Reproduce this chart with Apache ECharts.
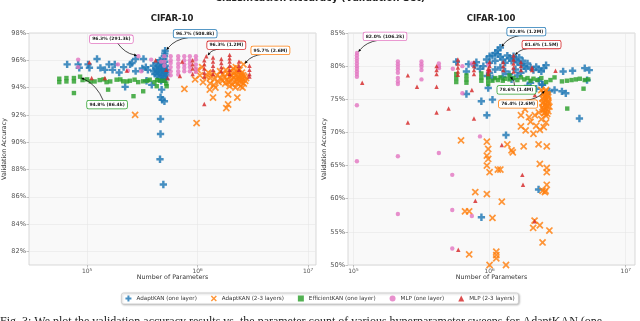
<!DOCTYPE html>
<html><head><meta charset="utf-8">
<script src="https://cdn.jsdelivr.net/npm/echarts@6/dist/echarts.min.js"></script>
<style>html,body{margin:0;padding:0;background:#fff}#c{width:640px;height:321px}</style>
</head><body><div id="c"></div>
<script>
// ---------------- DATA ----------------
const seriesNames = ['AdaptKAN (one layer)', 'AdaptKAN (2-3 layers)', 'EfficientKAN (one layer)', 'MLP (one layer)', 'MLP (2-3 layers)'];
const panelTitles = ['CIFAR-10', 'CIFAR-100'];
const c10YTicks = [82, 84, 86, 88, 90, 92, 94, 96, 98];
const c100YTicks = [50, 55, 60, 65, 70, 75, 80, 85];
const xTicks = [1e5, 1e6, 1e7];

// CIFAR-10: [parameters, validation accuracy %]
const c10AdaptKAN1 = [
 [66e3,95.7],[83e3,95.7],[85e3,95.45],[102e3,95.7],[105e3,95.45],[123e3,96.1],[132e3,95.45],[145e3,95.3],[158e3,95.7],[170e3,95.3],[178e3,95.7],[195e3,95.1],[214e3,95.5],[221e3,94.05],[245e3,95.7],[255e3,95.8],[275e3,96.1],[275e3,95.2],[324e3,96.1],[316e3,95.4],[340e3,95.5],[355e3,95.3],[345e3,94.5],[385e3,94.2],
 [398e3,95.6],[400e3,95.2],[410e3,95.0],[420e3,95.4],[425e3,95.8],[430e3,94.9],[437e3,95.2],[440e3,95.6],[447e3,95.0],[450e3,95.4],[457e3,94.7],[460e3,95.8],[465e3,95.1],[470e3,95.5],[475e3,94.9],[480e3,95.3],[485e3,95.7],[490e3,95.0],[495e3,95.4],[500e3,94.8],[505e3,95.2],[510e3,95.6],[515e3,94.6],[520e3,95.1],[525e3,94.9],[530e3,95.3],[430e3,95.3],[455e3,96.0],[468e3,94.5],[488e3,94.6],
 [508.8e3,96.7],[505e3,96.5],[500e3,96.3],[495e3,96.1],[505e3,95.9],
 [473e3,93.85],[462e3,93.3],[478e3,93.1],[501e3,93.0],[462e3,91.7],[462e3,90.6],[457e3,88.75],[490e3,86.9]
];
const c10AdaptKAN23 = [
 [1.0e6,95.3],[0.95e6,94.6],[1.05e6,94.9],[1.1e6,95.5],[1.12e6,94.4],[1.2e6,94.8],[1.25e6,95.1],[1.3e6,94.3],[1.3e6,94.7],[1.35e6,95.0],[1.4e6,94.2],[1.42e6,94.6],[1.45e6,94.0],[1.5e6,94.9],[1.55e6,94.4],[1.6e6,95.2],[1.62e6,94.7],[1.68e6,94.5],[1.7e6,95.0],[1.75e6,94.8],[1.78e6,94.3],[1.8e6,95.3],[1.85e6,94.6],[1.88e6,95.0],[1.9e6,94.4],[1.95e6,94.8],[1.98e6,95.2],[2.0e6,94.5],[2.05e6,94.9],[2.08e6,94.2],[2.1e6,95.4],[2.12e6,94.7],[2.15e6,95.1],[2.18e6,94.4],[2.2e6,94.9],[2.22e6,95.5],[2.25e6,94.6],[2.28e6,95.2],[2.3e6,94.3],[2.32e6,94.8],[2.35e6,95.0],[2.38e6,94.5],[2.4e6,95.3],[2.42e6,94.7],[2.45e6,94.1],[2.48e6,94.9],[2.5e6,94.4],[2.52e6,95.1],[2.55e6,94.6],[2.58e6,94.9],[2.6e6,95.7],[2.62e6,94.3],[2.65e6,94.8],[2.7e6,94.5],[2.75e6,94.7],[2.2e6,94.0],[1.95e6,94.1],[2.55e6,94.0],
 [272e3,92.0],[980e3,91.4],[760e3,93.9],[1.29e6,93.85],[1.38e6,93.27],[1.89e6,93.5],[1.89e6,92.76],[1.82e6,92.5],[2.29e6,93.27]
];
const c10EfficientKAN = [
 [56e3,94.65],[56e3,94.4],[65e3,94.7],[65e3,94.45],[76e3,94.7],[76e3,94.45],[86.4e3,94.8],[91e3,94.55],[100e3,94.6],[108e3,94.45],[117e3,94.45],[130e3,94.55],[141e3,94.6],[150e3,94.4],[162e3,94.45],[185e3,94.58],[200e3,94.6],[212e3,94.46],[230e3,94.45],[244e3,94.5],[269e3,94.58],[290e3,94.4],[321e3,94.46],[350e3,94.5],[369e3,94.58],[407e3,94.4],[430e3,94.55],[457e3,94.5],[500e3,94.5],[520e3,94.3],
 [76e3,93.6],[155e3,93.85],[263e3,93.37],[322e3,93.73],[427e3,94.1],[525e3,94.1]
];
const c10MLP1 = [
 [83e3,96.05],[83e3,95.5],[190e3,95.7],[234e3,95.24],[291.3e3,96.3],[309e3,95.2],[380e3,96.05],[468e3,95.9],
 [500e3,96.3],[500e3,95.9],[500e3,95.6],
 [571e3,96.3],[571e3,96.0],[571e3,95.8],[571e3,95.5],[571e3,95.2],[571e3,94.9],
 [668e3,96.3],[668e3,96.05],[668e3,95.75],[668e3,95.5],[668e3,95.2],[668e3,94.95],
 [758e3,96.3],[758e3,96.0],[758e3,95.7],[758e3,95.45],[758e3,95.2],
 [851e3,96.3],[851e3,96.0],[851e3,95.75],[851e3,95.5],[851e3,95.2],
 [966e3,96.3],[966e3,96.05],[966e3,95.7],[966e3,95.4],[966e3,95.15]
];
const c10MLP23 = [
 [105e3,95.85],[110e3,94.7],[145e3,94.7],[229e3,95.24],[417e3,96.0],[520e3,95.3],[537e3,94.7],[692e3,94.85],[725e3,95.9],
 [902e3,96.0],[902e3,95.7],[902e3,95.4],[902e3,95.0],[1.15e6,92.8],
 [1.2e6,96.3],[1.15e6,96.0],[1.15e6,95.7],[1.15e6,95.4],[1.15e6,95.1],[1.15e6,94.8],
 [1.38e6,96.2],[1.38e6,95.9],[1.38e6,95.6],[1.38e6,95.3],[1.38e6,95.0],
 [1.64e6,96.1],[1.64e6,95.8],[1.64e6,95.5],[1.64e6,95.2],
 [1.95e6,96.4],[1.95e6,96.15],[1.95e6,95.9],[1.95e6,95.6],[1.95e6,95.3],[1.95e6,95.0],
 [2.37e6,95.9],[2.37e6,95.6],[2.37e6,95.3],
 [2.95e6,95.6],[2.95e6,95.3],[2.95e6,95.0],[2.95e6,94.8]
];

// CIFAR-100
const c100AdaptKAN1 = [
 [1.2e6,82.8],[1.15e6,82.4],[1.1e6,82.0],[1.05e6,81.6],[1.15e6,81.8],[1.2e6,81.4],[1.0e6,81.5],[950e3,81.0],[1.0e6,80.5],[1.1e6,80.8],[1.25e6,81.0],[1.3e6,80.5],[1.35e6,81.6],[1.4e6,81.2],[1.45e6,80.8],[1.5e6,81.5],[1.55e6,81.0],[1.6e6,80.6],[1.65e6,81.3],[1.7e6,80.2],[1.75e6,80.8],[1.8e6,80.0],[1.85e6,79.6],[1.9e6,80.4],[2.0e6,79.8],[2.1e6,79.4],[2.2e6,79.9],[2.3e6,79.5],[2.4e6,79.2],[2.5e6,79.7],[1.2e6,79.8],[1.3e6,79.2],[1.4e6,78.8],[1.55e6,79.5],[1.6e6,78.6],[1.7e6,79.0],[1.1e6,79.5],[1.0e6,79.0],[900e3,80.0],[850e3,79.6],[800e3,80.6],[780e3,80.1],[700e3,80.3],[676e3,79.2],[569e3,80.65],[960e3,78.5],[1.05e6,78.2],[1.25e6,78.4],[1.45e6,78.0],[2.0e6,77.5],[2.3e6,77.8],[1.9e6,77.0],[2.6e6,80.15],[2.45e6,77.2],[2.2e6,76.6],[977e3,76.7],
 [676e3,75.8],[870e3,74.7],[1.05e6,74.95],[955e3,72.6],[1.32e6,69.6],[2.29e6,61.4],[871e3,57.2],[3.47e6,79.2],[4.07e6,79.3],[5.0e6,79.7],[5.4e6,79.4],[5.2e6,77.9],[4.57e6,72.1],[2.75e6,76.2],[3.0e6,76.4],[3.4e6,76.2],[3.63e6,75.9],[2.43e6,77.2]
];
const c100AdaptKAN23 = [
 [2.6e6,76.4],[2.5e6,76.0],[2.65e6,75.8],[2.55e6,75.5],[2.7e6,75.3],[2.45e6,75.1],[2.6e6,74.9],[2.5e6,74.6],[2.7e6,74.4],[2.55e6,74.2],[2.65e6,74.0],[2.45e6,73.8],[2.6e6,73.6],[2.5e6,73.4],[2.7e6,73.2],[2.55e6,73.0],[2.65e6,72.8],[2.6e6,72.5],[2.5e6,75.8],[2.7e6,74.8],[2.45e6,74.4],[2.62e6,73.9],[2.52e6,72.9],[2.68e6,75.6],[2.58e6,76.2],[2.48e6,73.5],[2.66e6,74.6],[2.56e6,75.2],[2.4e6,76.4],[2.75e6,73.9],
 [1.7e6,72.6],[1.82e6,73.5],[1.95e6,72.3],[1.7e6,70.9],[1.84e6,70.3],[2.0e6,71.6],[2.2e6,71.0],[2.34e6,70.4],[2.1e6,69.8],[2.5e6,70.8],[2.4e6,72.0],[2.6e6,71.5],[2.3e6,73.0],[2.15e6,72.6],
 [617e3,68.8],[955e3,68.6],[977e3,67.5],[955e3,66.5],[977e3,66.0],[955e3,65.0],[1.0e6,64.0],[1.15e6,64.4],[1.2e6,64.4],[1.35e6,68.2],[1.48e6,67.0],[1.45e6,67.3],[1.78e6,67.9],[2.29e6,68.2],[2.63e6,67.9],[2.34e6,65.25],[2.63e6,64.65],[2.63e6,64.0],[2.63e6,62.1],[2.45e6,61.2],[2.58e6,61.2],[2.55e6,61.0],[785e3,61.0],[955e3,60.7],[1.23e6,59.55],[660e3,58.1],[708e3,58.1],[1.05e6,57.1],[2.14e6,56.7],[2.34e6,56.0],[2.09e6,55.6],[2.75e6,55.2],[2.45e6,53.4],[708e3,51.6],[1.12e6,52.0],[1.12e6,51.5],[1.12e6,51.0],[1.0e6,50.0],[1.32e6,50.0]
];
const c100EfficientKAN = [
 [569e3,78.8],[569e3,78.2],[569e3,77.6],[676e3,78.6],[676e3,78.0],[676e3,77.5],[870e3,78.9],[870e3,78.3],[870e3,77.8],[977e3,78.5],[977e3,77.9],[977e3,77.3],
 [1.05e6,77.8],[1.1e6,78.2],[1.15e6,77.9],[1.2e6,78.3],[1.25e6,77.8],[1.3e6,78.1],[1.4e6,78.6],[1.4e6,78.0],[1.5e6,78.2],[1.6e6,77.9],[1.7e6,78.3],[1.8e6,78.0],[1.9e6,78.2],[2.0e6,77.8],[2.1e6,78.1],[2.25e6,77.9],[2.4e6,78.2],[2.6e6,77.6],[2.8e6,77.9],[3.0e6,78.3],[3.4e6,77.7],[3.7e6,77.8],[4.0e6,77.9],[4.3e6,78.0],[4.6e6,78.1],[5.0e6,77.9],[5.3e6,78.0],[4.9e6,76.6],[3.72e6,73.6]
];
const c100MLP1 = [
 [106.2e3,82.0],[106e3,81.6],[106e3,81.2],[106e3,80.8],[106e3,80.4],[106e3,80.0],[106e3,79.6],[106e3,79.2],[106e3,78.8],[106e3,78.4],[106e3,74.1],[106e3,65.65],
 [212e3,80.7],[212e3,80.3],[212e3,79.9],[212e3,79.5],[212e3,79.0],[212e3,78.2],[212e3,77.7],[212e3,77.3],[212e3,66.4],[212e3,57.7],
 [316e3,80.7],[316e3,80.3],[316e3,79.9],[316e3,79.4],[316e3,78.0],
 [424e3,80.4],[424e3,80.0],[424e3,79.7],[424e3,66.9],
 [537e3,79.6],[532e3,63.6],[532e3,58.3],[532e3,52.5],
 [631e3,80.0],[631e3,75.9],[741e3,80.4],[741e3,57.4],[850e3,69.4],[977e3,80.2],[977e3,79.2]
];
const c100MLP23 = [
 [116e3,77.5],[251e3,78.6],[293e3,76.9],[251e3,71.5],
 [408e3,80.0],[408e3,79.4],[408e3,78.8],[408e3,76.9],[408e3,73.0],
 [500e3,73.6],[585e3,81.0],[585e3,80.4],[585e3,79.8],[585e3,79.2],[585e3,78.7],[589e3,52.3],
 [768e3,80.6],[768e3,80.0],[768e3,79.4],[768e3,78.8],[768e3,72.1],[741e3,76.4],[786e3,59.7],
 [977e3,79.6],[977e3,79.2],[977e3,78.8],
 [1.0e6,80.6],[1.0e6,80.0],[1.0e6,79.4],
 [1.26e6,80.6],[1.26e6,80.0],[1.26e6,79.4],[1.23e6,68.1],
 [1.5e6,81.6],[1.5e6,81.0],[1.5e6,80.4],[1.5e6,79.8],[1.5e6,79.2],
 [1.7e6,80.6],[1.7e6,80.0],[1.7e6,79.4],[1.74e6,63.6],[1.76e6,62.1],
 [2.05e6,79.8],[2.05e6,79.4],[2.14e6,56.6],[2.15e6,75.65],[3.05e6,79.3]
];

// Best-point annotations
const c10Best = [
 ['MLP (one layer)', 291.3e3, 96.3, '96.3% (291.3k)'],
 ['AdaptKAN (one layer)', 508.8e3, 96.7, '96.7% (508.8k)'],
 ['MLP (2-3 layers)', 1.2e6, 96.3, '96.3% (1.2M)'],
 ['AdaptKAN (2-3 layers)', 2.6e6, 95.7, '95.7% (2.6M)'],
 ['EfficientKAN (one layer)', 86.4e3, 94.8, '94.8% (86.4k)']
];
const c100Best = [
 ['MLP (one layer)', 106.2e3, 82.0, '82.0% (106.2k)'],
 ['AdaptKAN (one layer)', 1.2e6, 82.8, '82.8% (1.2M)'],
 ['MLP (2-3 layers)', 1.5e6, 81.6, '81.6% (1.5M)'],
 ['EfficientKAN (one layer)', 1.4e6, 78.6, '78.6% (1.4M)'],
 ['AdaptKAN (2-3 layers)', 2.6e6, 76.4, '76.4% (2.6M)']
];
const captionText = 'Fig. 3: We plot the validation accuracy results vs. the parameter count of various hyperparameter sweeps for AdaptKAN (one';

// ---------------- STYLE / LAYOUT ----------------
const colors = {
 'AdaptKAN (one layer)': '#1f77b4',
 'AdaptKAN (2-3 layers)': '#ff7f0e',
 'EfficientKAN (one layer)': '#2ca02c',
 'MLP (one layer)': '#e377c2',
 'MLP (2-3 layers)': '#d62728'
};
const PLUS = 'path://M-1,-3H1V-1H3V1H1V3H-1V1H-3V-1H-1Z';
const XMARK = 'path://M-3,-2L-2,-3L0,-1L2,-3L3,-2L1,0L3,2L2,3L0,1L-2,3L-3,2L-1,0Z';
const symbols = {
 'AdaptKAN (one layer)': [PLUS, 7.3],
 'AdaptKAN (2-3 layers)': [XMARK, 7.3],
 'EfficientKAN (one layer)': ['rect', 4.4],
 'MLP (one layer)': ['circle', 4.4],
 'MLP (2-3 layers)': ['triangle', 4.4]
};
const offsets = [
 {'MLP (one layer)':[-27,-17],'AdaptKAN (one layer)':[30,-17],'MLP (2-3 layers)':[20,-11],'AdaptKAN (2-3 layers)':[27,-14],'EfficientKAN (one layer)':[27,28]},
 {'MLP (one layer)':[28,-16.5],'AdaptKAN (one layer)':[26,-16],'MLP (2-3 layers)':[28,-11],'EfficientKAN (one layer)':[7,14.5],'AdaptKAN (2-3 layers)':[-28,14]}
];

const FONT = 'DejaVu Sans';
const gridCommon = {show:true, backgroundColor:'#f9f9f9', borderColor:'#cfcfcf', borderWidth:0.8};
function xAxis(gi, min, max) {
 return {
  type:'log', logBase:10, gridIndex:gi, min:min, max:max,
  name:'Number of Parameters', nameLocation:'middle', nameGap:9.5, nameMoveOverlap:false,
  nameTextStyle:{fontFamily:FONT, fontSize:6.3, color:'#333'},
  axisLine:{show:false},
  axisTick:{show:true, length:2.5, customValues:xTicks, lineStyle:{color:'#999', width:0.6}},
  splitLine:{show:true, lineStyle:{color:'#e6e6e6', width:0.6}},
  minorTick:{show:false},
  axisLabel:{customValues:xTicks, margin:3,
   formatter: v => '{b|10}{s|' + Math.round(Math.log10(v)) + '}',
   rich:{b:{fontFamily:FONT, fontSize:6, color:'#555'}, s:{fontFamily:FONT, fontSize:4.2, color:'#555', verticalAlign:'bottom', padding:[0,0,3,0]}}}
 };
}
function yAxis(gi, min, max, ticks, gap) {
 return {
  type:'value', gridIndex:gi, min:min, max:max,
  name:'Validation Accuracy', nameLocation:'middle', nameGap:gap, nameMoveOverlap:false,
  nameTextStyle:{fontFamily:FONT, fontSize:6.3, color:'#333'},
  axisLine:{show:false},
  axisTick:{show:true, length:2.5, customValues:ticks, lineStyle:{color:'#999', width:0.6}},
  splitLine:{show:true, lineStyle:{color:'#e6e6e6', width:0.6}},
  axisLabel:{customValues:ticks, margin:3, fontFamily:FONT, fontSize:6.6, color:'#555', formatter: v => v + '%'}
 };
}
const panels = [
 [c10AdaptKAN1, c10AdaptKAN23, c10EfficientKAN, c10MLP1, c10MLP23],
 [c100AdaptKAN1, c100AdaptKAN23, c100EfficientKAN, c100MLP1, c100MLP23]
];
const series = [];
panels.forEach((arrs, gi) => {
 arrs.forEach((data, si) => {
  const name = seriesNames[si];
  series.push({
   type:'scatter', name:name, xAxisIndex:gi, yAxisIndex:gi, data:data,
   symbol:symbols[name][0], symbolSize:symbols[name][1],
   itemStyle:{color:colors[name], opacity:0.82},
   emphasis:{disabled:true}, silent:true, z:2+si
  });
 });
});

const chart = echarts.init(document.getElementById('c'), null, {renderer:'canvas'});
chart.setOption({
 animation:false,
 backgroundColor:'#ffffff',
 grid:[
  Object.assign({left:28, top:33, width:288, height:232}, gridCommon),
  Object.assign({left:348, top:33, width:287, height:232}, gridCommon)
 ],
 xAxis:[xAxis(0, 29.8e3, 11.8e6), xAxis(1, 91.2e3, 11.7e6)],
 yAxis:[yAxis(0, 81, 98, c10YTicks, 22), yAxis(1, 50, 85, c100YTicks, 21)],
 legend:{
  data:seriesNames.map(n => ({name:n, icon:symbols[n][0]})),
  left:'center', top:293, itemWidth:6, itemHeight:6, itemGap:14,
  textStyle:{fontFamily:FONT, fontSize:5.6, color:'#333'},
  backgroundColor:'#fff', borderColor:'#cccccc', borderWidth:0.8, borderRadius:2,
  padding:[2.5,4], shadowColor:'rgba(0,0,0,0.25)', shadowBlur:2, shadowOffsetX:0.8, shadowOffsetY:0.8,
  selectedMode:false
 },
 series:series
});

function annotationGraphics() {
 const out = [];
 [c10Best, c100Best].forEach((list, gi) => {
  list.forEach((a, i) => {
   const name = a[0], text = a[3];
   const p = chart.convertToPixel({gridIndex:gi}, [a[1], a[2]]);
   const off = offsets[gi][name];
   const bx = p[0] + off[0], by = p[1] + off[1];
   const hw = text.length * 1.4 + 2, hh = 3.8;
   const dx = p[0] - bx, dy = p[1] - by;
   const t = Math.min(hw / Math.max(Math.abs(dx), 1e-6), hh / Math.max(Math.abs(dy), 1e-6));
   const sx = bx + dx * t, sy = by + dy * t;
   const L = Math.hypot(p[0] - sx, p[1] - sy);
   const ux = (p[0] - sx) / L, uy = (p[1] - sy) / L;
   const ex = p[0] - ux * 1.5, ey = p[1] - uy * 1.5;
   const mx = (sx + ex) / 2, my = (sy + ey) / 2, ddx = ex - sx, ddy = ey - sy, f = 0.2;
   const cx = mx - f * ddy, cy = my + f * ddx;
   const al = Math.hypot(ex - cx, ey - cy), ax = (ex - cx) / al, ay = (ey - cy) / al;
   const hl = 3, hw2 = 1.3;
   const hx = ex - ax * hl, hy = ey - ay * hl;
   out.push({type:'bezierCurve', id:'arc'+gi+'_'+i, z:100, silent:true,
    shape:{x1:sx, y1:sy, x2:hx, y2:hy, cpx1:cx, cpy1:cy},
    style:{stroke:'#000', lineWidth:0.7, fill:null}});
   out.push({type:'polygon', id:'head'+gi+'_'+i, z:100, silent:true,
    shape:{points:[[ex,ey],[hx - ay*hw2, hy + ax*hw2],[hx + ay*hw2, hy - ax*hw2]]},
    style:{fill:'#000'}});
   out.push({type:'text', id:'lab'+gi+'_'+i, z:101, silent:true, x:bx, y:by,
    style:{text:text, align:'center', verticalAlign:'middle', font:'bold 4.5px ' + FONT, fill:'#222',
     backgroundColor:'#fff', borderColor:colors[name], borderWidth:0.8, borderRadius:1.5, padding:[1.3,2.2]}});
  });
 });
 return out;
}

const g = [
 {type:'text', id:'maintitle', x:320, y:-1, z:50, silent:true,
  style:{text:'Classification Accuracy (Validation Set)', align:'center', verticalAlign:'middle', font:'bold 9.5px ' + FONT, fill:'#222'}},
 {type:'text', id:'t0', x:172, y:19, z:50, silent:true,
  style:{text:panelTitles[0], align:'center', verticalAlign:'middle', font:'bold 8.5px ' + FONT, fill:'#222'}},
 {type:'text', id:'t1', x:491, y:19, z:50, silent:true,
  style:{text:panelTitles[1], align:'center', verticalAlign:'middle', font:'bold 8.5px ' + FONT, fill:'#222'}},
 {type:'text', id:'caption', x:0, y:316, z:50, silent:true,
  style:{text:captionText, font:'12px "Liberation Serif"', fill:'#222'}}
].concat(annotationGraphics());
chart.setOption({graphic:g});
</script>
</body></html>
